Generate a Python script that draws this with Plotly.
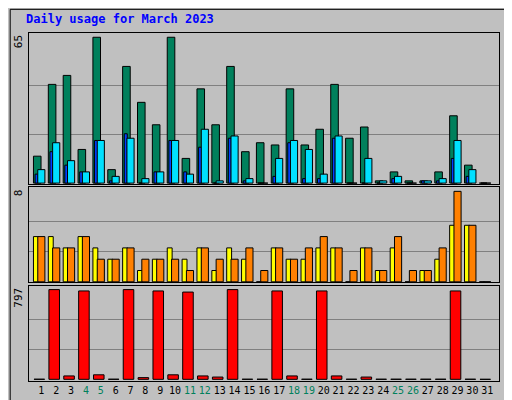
import plotly.graph_objects as go

days = list(range(1, 32))
hits = [12, 44, 48, 15, 65, 6, 52, 36, 26, 65, 11, 42, 26, 52, 14, 18, 17, 42, 17, 24, 44, 20, 25, 1, 5, 1, 1, 5, 30, 8, 0]
files = [6, 18, 10, 5, 19, 3, 20, 2, 5, 19, 4, 24, 1, 21, 2, 0, 11, 19, 15, 4, 21, 0, 11, 1, 3, 0, 1, 2, 19, 6, 0]
pages = [4, 14, 8, 5, 19, 1, 22, 0, 5, 19, 5, 16, 0, 20, 1, 0, 3, 18, 2, 2, 20, 0, 0, 0, 2, 0, 1, 1, 11, 3, 0]
visits = [4, 4, 3, 4, 3, 2, 3, 1, 2, 3, 2, 3, 1, 3, 2, 0, 3, 2, 2, 3, 3, 0, 3, 1, 3, 0, 1, 2, 5, 5, 0]
sites = [4, 3, 3, 4, 2, 2, 3, 2, 2, 2, 1, 3, 2, 2, 3, 1, 3, 2, 3, 4, 3, 1, 3, 1, 4, 1, 1, 3, 8, 5, 0]
kbytes = [1, 797, 30, 785, 40, 1, 797, 15, 785, 40, 775, 30, 20, 797, 1, 1, 785, 30, 1, 785, 30, 1, 20, 1, 1, 1, 1, 1, 785, 1, 0]
weekend = [4, 5, 11, 12, 18, 19, 25, 26]

GREEN, BLUE, CYAN = "#00805c", "#0040ff", "#00e0ff"
YELLOW, ORANGE, RED = "#ffff00", "#ff8000", "#ff0000"
FONT = "DejaVu Sans Mono"

fig = go.Figure()


def bar(y, color, off, w, ax):
    fig.add_trace(go.Bar(x=days, y=y, offset=off, width=w, marker_color=color,
                         marker_line=dict(color="black", width=1),
                         xaxis="x" + ax, yaxis="y" + ax, hoverinfo="y"))


bar(hits, GREEN, -0.53, 0.51, "")
bar(pages, BLUE, -0.42, 0.2, "")
bar(files, CYAN, -0.24, 0.48, "")
bar(visits, YELLOW, -0.53, 0.33, "2")
bar(sites, ORANGE, -0.24, 0.48, "2")
bar(kbytes, RED, -0.49, 0.71, "3")

xr = [0.17, 31.79]
common_x = dict(range=xr, showgrid=False, zeroline=False, showline=True, linecolor="black",
                mirror=True, fixedrange=True)
common_y = dict(showgrid=True, gridcolor="#808080", gridwidth=1, zeroline=False, showline=True,
                linecolor="black", mirror=True, showticklabels=False, ticks="", fixedrange=True)

ticktext = [f"<span style='color:{GREEN}'>{d}</span>" if d in weekend else str(d) for d in days]

fig.update_layout(
    width=512, height=400, barmode="overlay", showlegend=False,
    paper_bgcolor="#c0c0c0", plot_bgcolor="#c0c0c0",
    margin=dict(l=21, r=21, t=25, b=23),
    font=dict(family=FONT, size=11, color="black"),
    xaxis=dict(**common_x, anchor="y", showticklabels=False, ticks=""),
    xaxis2=dict(**common_x, anchor="y2", showticklabels=False, ticks=""),
    xaxis3=dict(**common_x, anchor="y3", tickvals=days, ticktext=ticktext, ticks="",
                tickangle=0, tickfont=dict(family=FONT, size=10)),
    yaxis=dict(**common_y, domain=[0.565, 1], range=[-0.57, 66.9], tickvals=[21.67, 43.33]),
    yaxis2=dict(**common_y, domain=[0.284, 0.557], range=[-0.03, 8.37], tickvals=[2.67, 5.33]),
    yaxis3=dict(**common_y, domain=[0, 0.273], range=[-15, 829], tickvals=[265.7, 531.3]),
)

fig.add_annotation(text="<b>Daily usage for March 2023</b>", xref="paper", yref="paper",
                   x=-0.01, y=1.065, xanchor="left", yanchor="top", showarrow=False,
                   font=dict(family=FONT, size=12, color="#0000ff"))

for txt, y in [("65", 1.0), ("8", 0.557), ("797", 0.273)]:
    fig.add_annotation(text=txt, textangle=-90, xref="paper", yref="paper", x=-0.022, y=y,
                       xanchor="center", yanchor="top", showarrow=False, font=dict(size=11))

sl = "<span style='color:black'> / </span>"
legends = [
    (f"<span style='color:{CYAN}'>Pages</span>{sl}<span style='color:{BLUE}'>Files</span>{sl}"
     f"<span style='color:{GREEN}'>Hits</span>", 1.0),
    (f"<span style='color:{ORANGE}'>Sites</span>{sl}<span style='color:{YELLOW}'>Visits</span>", 0.557),
    (f"<span style='color:{RED}'>kB F</span>", 0.273),
]
for txt, y in legends:
    fig.add_annotation(text=txt, textangle=-90, xref="paper", yref="paper", x=1.022, y=y,
                       xanchor="center", yanchor="top", showarrow=False, font=dict(size=11))

# outer frame
fig.add_shape(type="rect", xref="paper", yref="paper", x0=-0.04, x1=1.04, y0=-0.063, y1=1.068,
              line=dict(color="black", width=1), layer="below")

fig.write_html("out.html")
